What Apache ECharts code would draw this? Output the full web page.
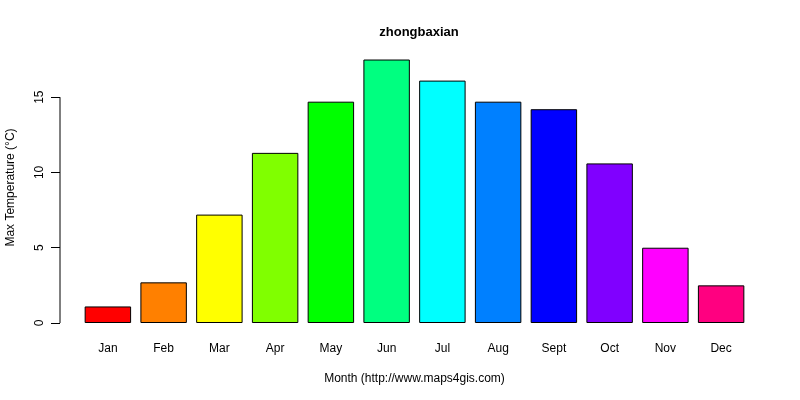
<!DOCTYPE html>
<html>
<head>
<meta charset="utf-8">
<script src="https://cdn.jsdelivr.net/npm/echarts@6/dist/echarts.min.js"></script>
<style>
html, body { margin: 0; padding: 0; background: #fff; }
#main { width: 800px; height: 400px; }
</style>
</head>
<body>
<div id="main"></div>
<script>
var months = ['Jan', 'Feb', 'Mar', 'Apr', 'May', 'Jun', 'Jul', 'Aug', 'Sept', 'Oct', 'Nov', 'Dec'];
var maxTemp = [1.1, 2.7, 7.2, 11.3, 14.7, 17.5, 16.1, 14.7, 14.2, 10.6, 5.0, 2.5];
var barColors = ['#FF0000', '#FF8000', '#FFFF00', '#80FF00', '#00FF00', '#00FF80',
                 '#00FFFF', '#0080FF', '#0000FF', '#8000FF', '#FF00FF', '#FF0080'];
var yTicks = [0, 5, 10, 15];

var font = 'Liberation Sans, Arial, sans-serif';
var chart = echarts.init(document.getElementById('main'));
var option = {
    backgroundColor: '#fff',
    animation: false,
    title: {
        text: 'zhongbaxian',
        left: 414,
        top: 21,
        textAlign: 'center',
        textStyle: {fontFamily: font, fontSize: 13, fontWeight: 'bold', color: '#000'}
    },
    grid: {left: 80, right: 51, top: 52, bottom: 77, containLabel: false, outerBoundsMode: 'none'},
    xAxis: {
        type: 'category',
        data: months,
        axisLine: {show: false},
        axisTick: {show: false},
        axisLabel: {fontFamily: font, fontSize: 12, color: '#000', margin: 20},
        name: 'Month (http://www.maps4gis.com)',
        nameLocation: 'middle',
        nameGap: 50,
        nameTextStyle: {fontFamily: font, fontSize: 12, color: '#000'}
    },
    yAxis: {
        type: 'value',
        min: 0,
        max: 18,
        interval: 5,
        offset: 20,
        splitLine: {show: false},
        axisLine: {show: false},
        axisTick: {show: true, length: 9, customValues: yTicks, lineStyle: {color: '#000'}},
        axisLabel: {
            fontFamily: font, fontSize: 12, color: '#000', rotate: 90, margin: 14,
            customValues: yTicks
        },
        name: 'Max Temperature (°C)',
        nameLocation: 'middle',
        nameGap: 43,
        nameTextStyle: {fontFamily: font, fontSize: 12, color: '#000'}
    },
    series: [{
        type: 'bar',
        barCategoryGap: '16.7%',
        data: maxTemp.map(function (v, i) {
            return {value: v, itemStyle: {color: barColors[i]}};
        }),
        itemStyle: {borderColor: '#000', borderWidth: 1}
    }]
};
chart.setOption(option);

// R-style y axis line running only from the first to the last tick
var yTop = chart.convertToPixel({yAxisIndex: 0}, yTicks[yTicks.length - 1]);
var yBot = chart.convertToPixel({yAxisIndex: 0}, yTicks[0]);
chart.setOption({
    graphic: [{
        type: 'line',
        shape: {x1: 60, y1: yTop, x2: 60, y2: yBot},
        style: {stroke: '#000', lineWidth: 1}
    }]
});
</script>
</body>
</html>
